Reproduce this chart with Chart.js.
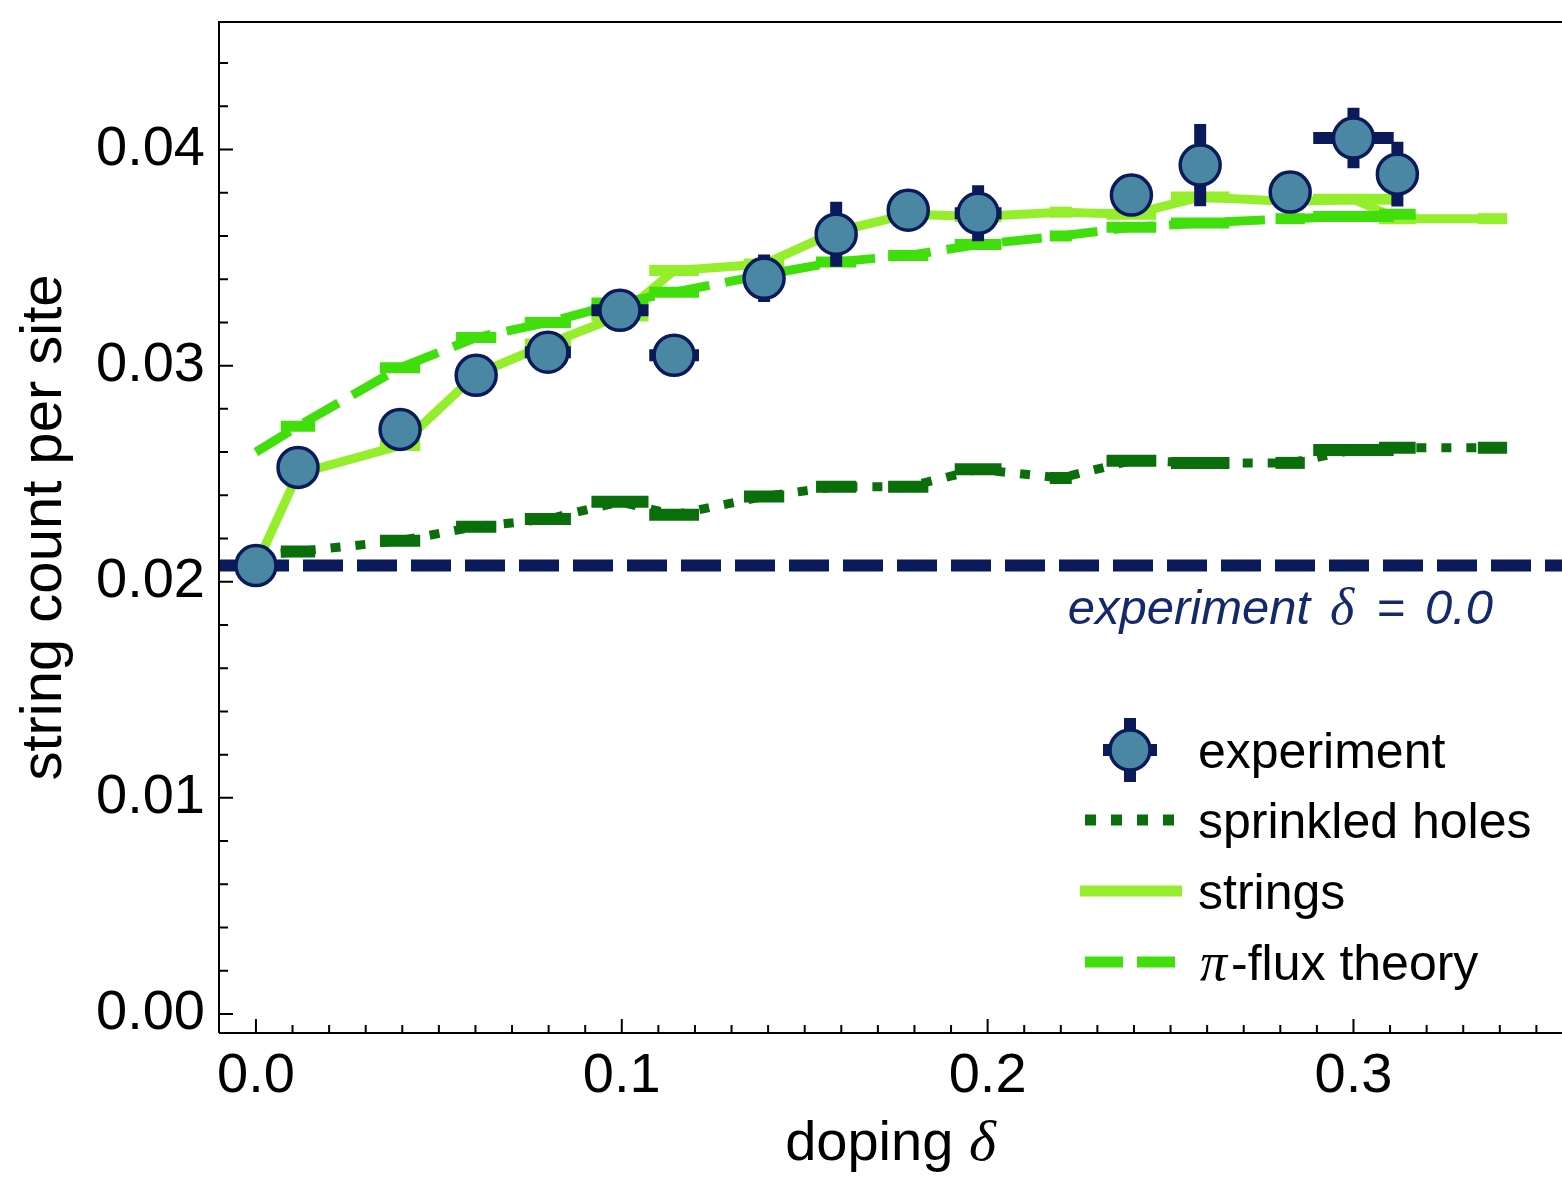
<!DOCTYPE html>
<html>
<head>
<meta charset="utf-8">
<script src="https://cdn.jsdelivr.net/npm/chart.js@4.4.1/dist/chart.umd.min.js"></script>
<style>
  html, body { margin: 0; padding: 0; background: #fff; }
</style>
</head>
<body>
<canvas id="myChart" width="1562" height="1182"></canvas>
<script>
// measured points: doping, string count, uncertainties
var doping    = [0.0, 0.0115, 0.0394, 0.0602, 0.0798, 0.0995, 0.1143, 0.1389, 0.1586, 0.1783, 0.1974, 0.2393, 0.2581, 0.2827, 0.3000, 0.3120];
var dopingErr = [0.0, 0.0045, 0.0050, 0.0050, 0.0063, 0.0078, 0.0068, 0.0050, 0.0050, 0.0050, 0.0064, 0.0050, 0.0050, 0.0040, 0.0110, 0.0050];
var expCount  = [0.02075, 0.02529, 0.02705, 0.02955, 0.03062, 0.03256, 0.03048, 0.03404, 0.03608, 0.03719, 0.03705, 0.03789, 0.03928, 0.03803, 0.04053, 0.03886];
var expErr    = [0.0002, 0.0003, 0.0003, 0.0003, 0.0003, 0.0003, 0.0003, 0.0011, 0.0015, 0.0005, 0.0013, 0.0004, 0.0019, 0.0004, 0.0014, 0.0015];

// model curves
var dopingTh    = [0.0, 0.0115, 0.0394, 0.0602, 0.0798, 0.0995, 0.1143, 0.1389, 0.1586, 0.1783, 0.1974, 0.2200, 0.2393, 0.2581, 0.2827, 0.3000, 0.3120, 0.3380];
var dopingThErr = [0.0, 0.0047, 0.0055, 0.0055, 0.0063, 0.0078, 0.0068, 0.0055, 0.0055, 0.0055, 0.0064, 0.0030, 0.0068, 0.0080, 0.0040, 0.0110, 0.0050, 0.0040];
var sprinkled = [0.0212, 0.0214, 0.0219, 0.02255, 0.0229, 0.0237, 0.0231, 0.02395, 0.0244, 0.0244, 0.0252, 0.0248, 0.0256, 0.0255, 0.0255, 0.0261, 0.0262, 0.0262];
var strings   = [0.02075, 0.0250, 0.0263, 0.0296, 0.0310, 0.0323, 0.0344, 0.0347, 0.0362, 0.0370, 0.0369, 0.0371, 0.0370, 0.0378, 0.0376, 0.0377, 0.0368, 0.0368];
var piFlux    = [0.0260, 0.0272, 0.0299, 0.0313, 0.0320, 0.0329, 0.0334, 0.0342, 0.0348, 0.0351, 0.0356, 0.0360, 0.0364, 0.0366, 0.0368, 0.0369, 0.0370, null];

var xTicks = [0.0, 0.1, 0.2, 0.3];
var yTicks = [0.00, 0.01, 0.02, 0.03, 0.04];
var xMin = -0.0101, xMax = 0.357;
var yMin = -0.00088, yMax = 0.0459;

var legendLabels = ["experiment", "sprinkled holes", "strings", "-flux theory"];

var navy = "#0b1a5b";
var dotFill = "#4a87a2";
var cStrings = "#95ee2c";
var cFlux = "#40df0b";
var cSprinkled = "#0a6e0a";
var sans = "'Liberation Sans', Arial, Helvetica, sans-serif";
var serif = "'Liberation Serif', 'Times New Roman', serif";

function pts(xs, ys) {
  return xs.map(function (x, i) { return { x: x, y: ys[i] }; });
}

// horizontal and vertical error bars, drawn under each dataset
var errorBars = {
  id: "errorBars",
  beforeDatasetDraw: function (chart, args) {
    var ds = chart.data.datasets[args.index];
    if (!ds.xErr && !ds.yErr) return;
    var xs = chart.scales.x, ys = chart.scales.y, ctx = chart.ctx, a = chart.chartArea;
    ctx.save();
    ctx.beginPath();
    ctx.rect(a.left, a.top, a.right - a.left, a.bottom - a.top);
    ctx.clip();
    ctx.strokeStyle = ds.errColor;
    ctx.lineWidth = ds.errWidth;
    ctx.lineCap = "butt";
    ds.data.forEach(function (p, i) {
      if (p.y === null) return;
      var dx = ds.xErr ? ds.xErr[i] : 0;
      var dy = ds.yErr ? ds.yErr[i] : 0;
      var py = ys.getPixelForValue(p.y), px = xs.getPixelForValue(p.x);
      ctx.beginPath();
      if (dx) {
        ctx.moveTo(xs.getPixelForValue(p.x - dx), py);
        ctx.lineTo(xs.getPixelForValue(p.x + dx), py);
      }
      if (dy) {
        ctx.moveTo(px, ys.getPixelForValue(p.y - dy));
        ctx.lineTo(px, ys.getPixelForValue(p.y + dy));
      }
      ctx.stroke();
    });
    ctx.restore();
  }
};

// frame, inward ticks, x title, legend and the reference-line label
var decorations = {
  id: "decorations",
  afterDraw: function (chart) {
    var ctx = chart.ctx, a = chart.chartArea;
    var xs = chart.scales.x, ys = chart.scales.y;
    ctx.save();
    ctx.strokeStyle = "#000";
    ctx.lineWidth = 2;
    ctx.beginPath();
    ctx.moveTo(a.left, a.bottom);
    ctx.lineTo(a.left, a.top);
    ctx.lineTo(a.right, a.top);
    ctx.moveTo(a.left, a.bottom);
    ctx.lineTo(a.right, a.bottom);
    ctx.stroke();

    // ticks: minor every 0.002 on y, every 0.01 on x
    ctx.beginPath();
    for (var k = 0; k <= 22; k++) {
      var y = ys.getPixelForValue(k * 0.002);
      ctx.moveTo(a.left, y);
      ctx.lineTo(a.left + (k % 5 === 0 ? 14 : 9), y);
    }
    for (var j = 0; j <= 35; j++) {
      var x = xs.getPixelForValue(j * 0.01);
      ctx.moveTo(x, a.bottom);
      ctx.lineTo(x, a.bottom - (j % 10 === 0 ? 14 : 8));
    }
    ctx.stroke();

    // x axis title
    ctx.fillStyle = "#000";
    ctx.textBaseline = "alphabetic";
    var t1 = "doping ";
    ctx.font = "56px " + sans;
    var w1 = ctx.measureText(t1).width;
    ctx.font = "italic 58px " + serif;
    var w2 = ctx.measureText("\u03b4").width;
    var x0 = (a.left + a.right) / 2 - (w1 + w2) / 2;
    ctx.font = "56px " + sans;
    ctx.fillText(t1, x0, 1160);
    ctx.font = "italic 58px " + serif;
    ctx.fillText("\u03b4", x0 + w1, 1160);

    // label of the undoped reference line
    ctx.fillStyle = "#14296c";
    var baseY = 624;
    var parts = [
      { t: "experiment", f: "italic 49px " + sans, gap: 20 },
      { t: "\u03b4", f: "italic 52px " + serif, gap: 22 },
      { t: "=", f: "italic 49px " + sans, gap: 20 },
      { t: "0.0", f: "italic 49px " + sans, gap: 0 }
    ];
    var total = 0;
    parts.forEach(function (p) { ctx.font = p.f; p.w = ctx.measureText(p.t).width; total += p.w + p.gap; });
    var cx = 1493 - total;
    parts.forEach(function (p) { ctx.font = p.f; ctx.fillText(p.t, cx, baseY); cx += p.w + p.gap; });

    // legend
    var symX = 1130, textX = 1198;
    var rowY = [750, 820, 891, 962];
    ctx.fillStyle = "#000";
    ctx.font = "50px " + sans;
    for (var r = 0; r < 4; r++) {
      var base = rowY[r] + 18;
      if (r === 3) {
        ctx.font = "italic 54px " + serif;
        ctx.fillText("\u03c0", textX + 2, base);
        var pw = ctx.measureText("\u03c0").width;
        ctx.font = "50px " + sans;
        ctx.fillText(legendLabels[r], textX + 6 + pw, base);
      } else {
        ctx.fillText(legendLabels[r], textX, base);
      }
    }
    // experiment symbol
    ctx.strokeStyle = navy;
    ctx.lineWidth = 12;
    ctx.beginPath();
    ctx.moveTo(symX - 27, rowY[0]); ctx.lineTo(symX + 27, rowY[0]);
    ctx.moveTo(symX, rowY[0] - 32); ctx.lineTo(symX, rowY[0] + 32);
    ctx.stroke();
    ctx.beginPath();
    ctx.arc(symX, rowY[0], 20, 0, Math.PI * 2);
    ctx.fillStyle = dotFill;
    ctx.fill();
    ctx.lineWidth = 3.5;
    ctx.stroke();
    // line samples
    ctx.lineCap = "butt";
    ctx.lineWidth = 11;
    ctx.strokeStyle = cSprinkled;
    ctx.setLineDash([11, 15]);
    ctx.beginPath(); ctx.moveTo(1085, rowY[1]); ctx.lineTo(1180, rowY[1]); ctx.stroke();
    ctx.strokeStyle = cStrings;
    ctx.setLineDash([]);
    ctx.beginPath(); ctx.moveTo(1080, rowY[2]); ctx.lineTo(1182, rowY[2]); ctx.stroke();
    ctx.strokeStyle = cFlux;
    ctx.setLineDash([38, 14]);
    ctx.beginPath(); ctx.moveTo(1085, rowY[3]); ctx.lineTo(1177, rowY[3]); ctx.stroke();
    ctx.restore();
  }
};

new Chart("myChart", {
  type: "scatter",
  data: {
    datasets: [{
      label: "experiment",
      data: pts(doping, expCount),
      xErr: dopingErr,
      yErr: expErr,
      errColor: navy,
      errWidth: 12,
      showLine: false,
      pointRadius: 20,
      pointHoverRadius: 20,
      pointBorderWidth: 3.5,
      pointBackgroundColor: dotFill,
      pointBorderColor: navy,
      order: 0
    },
    {
      label: "\u03c0-flux theory",
      data: pts(dopingTh, piFlux),
      xErr: dopingThErr,
      errColor: cFlux,
      errWidth: 11,
      showLine: true,
      borderColor: cFlux,
      borderWidth: 9,
      borderDash: [40, 16],
      pointRadius: 0,
      order: 1
    },
    {
      label: "strings",
      data: pts(dopingTh, strings),
      xErr: dopingThErr,
      errColor: cStrings,
      errWidth: 11,
      showLine: true,
      borderColor: cStrings,
      borderWidth: 9,
      pointRadius: 0,
      order: 2
    },
    {
      label: "sprinkled holes",
      data: pts(dopingTh, sprinkled),
      xErr: dopingThErr,
      errColor: cSprinkled,
      errWidth: 12,
      showLine: true,
      borderColor: cSprinkled,
      borderWidth: 9,
      borderDash: [10, 15],
      pointRadius: 0,
      order: 3
    },
    {
      label: "experiment \u03b4 = 0.0",
      data: [{ x: xMin, y: expCount[0] }, { x: xMax, y: expCount[0] }],
      showLine: true,
      borderColor: navy,
      borderWidth: 12,
      borderDash: [40, 14],
      borderDashOffset: 24,
      pointRadius: 0,
      order: 4
    }]
  },
  options: {
    responsive: false,
    animation: false,
    devicePixelRatio: 1,
    layout: { autoPadding: false, padding: { top: 22, right: 0, bottom: 0, left: 0 } },
    plugins: {
      legend: { display: false },
      tooltip: { enabled: false }
    },
    scales: {
      x: {
        type: "linear",
        min: xMin,
        max: xMax,
        afterFit: function (s) { s.height = 149; s.paddingLeft = 0; s.paddingRight = 0; },
        afterBuildTicks: function (s) { s.ticks = xTicks.map(function (v) { return { value: v }; }); },
        grid: { display: false, drawTicks: false },
        border: { display: false },
        ticks: {
          color: "#000",
          padding: 10,
          maxRotation: 0,
          autoSkip: false,
          font: { family: sans, size: 56 },
          callback: function (v) { return v.toFixed(1); }
        }
      },
      y: {
        type: "linear",
        min: yMin,
        max: yMax,
        afterFit: function (s) { s.width = 219; s.paddingTop = 0; s.paddingBottom = 0; },
        afterBuildTicks: function (s) { s.ticks = yTicks.map(function (v) { return { value: v }; }); },
        grid: { display: false, drawTicks: false },
        border: { display: false },
        title: {
          display: true,
          text: "string count per site",
          color: "#000",
          font: { family: sans, size: 58 },
          padding: { top: 10, bottom: 0 }
        },
        ticks: {
          color: "#000",
          padding: 14,
          font: { family: sans, size: 56 },
          callback: function (v) { return v.toFixed(2); }
        }
      }
    }
  },
  plugins: [errorBars, decorations]
});
</script>
</body>
</html>
